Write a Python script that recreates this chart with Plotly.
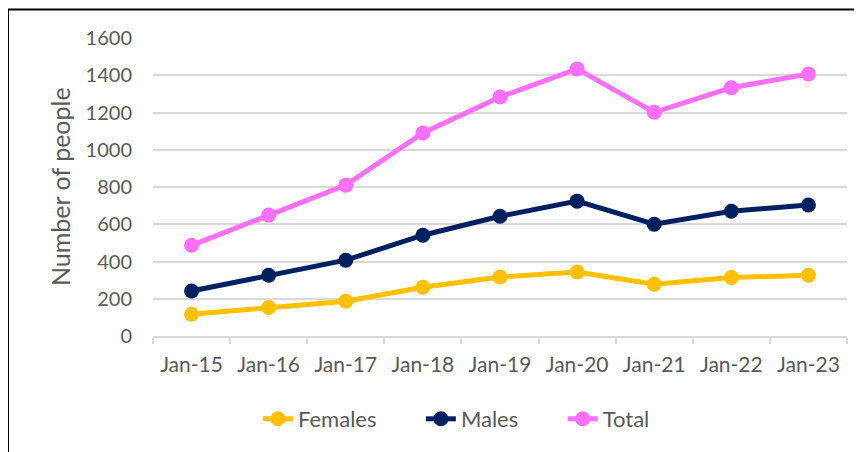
import plotly.graph_objects as go

categories = ["Jan-15", "Jan-16", "Jan-17", "Jan-18", "Jan-19", "Jan-20", "Jan-21", "Jan-22", "Jan-23"]
females = [117, 153, 187, 262, 317, 344, 278, 314, 326]
males = [242, 326, 407, 541, 643, 724, 600, 670, 703]
total = [487, 649, 810, 1090, 1283, 1434, 1201, 1333, 1407]
y_ticks = [0, 200, 400, 600, 800, 1000, 1200, 1400, 1600]

FONT = "Lato"
OFF = 8  # page body margin
W, H = 862 - OFF, 452 - OFF
L, R, T, B = 153 - OFF, 15, 38 - OFF, 116
pw, ph = W - L - R, H - T - B

def px_x(x):
    return (x - OFF - L) / pw

def px_y(y):
    return 1 - (y - OFF - T) / ph

PAD = "\u00a0" * 7

fig = go.Figure()
for name, vals, col in [("Females", females, "#FFC000"), ("Males", males, "#002060"), ("Total", total, "#FF6FFF")]:
    fig.add_trace(go.Scatter(x=categories, y=vals, name=name + PAD, mode="lines+markers",
                             line=dict(color=col, width=5),
                             marker=dict(color=col, size=15)))

fig.update_layout(
    width=W, height=H,
    margin=dict(l=L, r=R, t=T, b=B),
    paper_bgcolor="white", plot_bgcolor="white",
    font=dict(family=FONT, size=20, color="#595959"),
    showlegend=True,
    legend=dict(orientation="h", x=px_x(258), xanchor="left", y=px_y(419), yanchor="middle",
                font=dict(size=22, color="#595959"), traceorder="normal"),
    xaxis=dict(type="category", range=[-0.5, len(categories) - 0.5], showgrid=False, showline=True,
               linecolor="#d9d9d9", linewidth=1.5,
               ticks="outside", ticklen=6, tickcolor="#d9d9d9", tickwidth=1.5, tickson="boundaries",
               ticklabelstandoff=9, zeroline=False, tickfont=dict(size=21)),
    yaxis=dict(range=[0, 1600], tickvals=y_ticks, showgrid=True, gridcolor="#d9d9d9", gridwidth=1.5,
               showline=False, zeroline=False, ticks="", ticklabelstandoff=20, tickfont=dict(size=20)),
    shapes=[
        dict(type="line", xref="paper", yref="paper", x0=px_x(8), x1=px_x(870), y0=px_y(9.5), y1=px_y(9.5),
             line=dict(color="black", width=2)),
        dict(type="line", xref="paper", yref="paper", x0=px_x(8), x1=px_x(8), y0=px_y(9.5), y1=px_y(460),
             line=dict(color="black", width=2)),
    ],
    annotations=[dict(text="Number of people", xref="paper", yref="paper", x=px_x(60), y=px_y(187),
                      textangle=-90, showarrow=False, font=dict(size=25, color="#595959"),
                      xanchor="center", yanchor="middle")],
)

fig.write_html("out.html")
